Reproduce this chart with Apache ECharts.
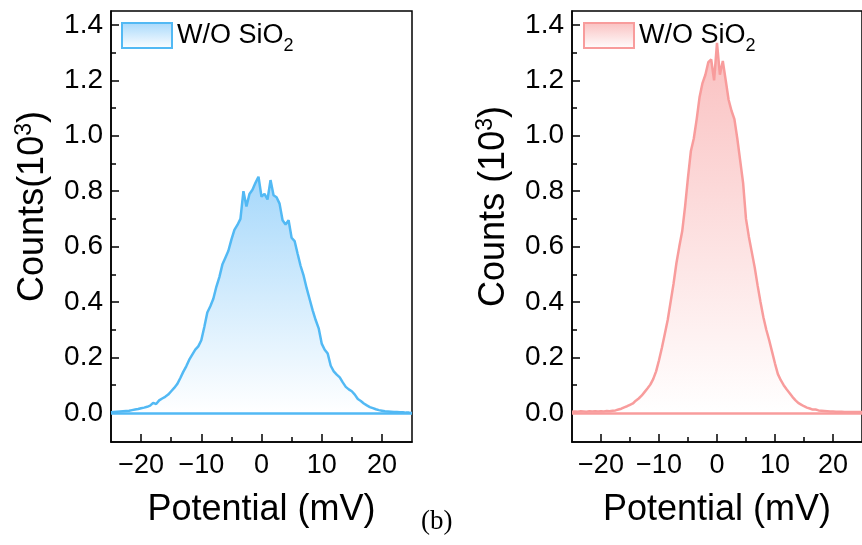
<!DOCTYPE html>
<html>
<head>
<meta charset="utf-8">
<script src="https://cdn.jsdelivr.net/npm/echarts@6/dist/echarts.min.js"></script>
<style>
  html, body { margin: 0; padding: 0; background: #fff; }
  #chart { width: 862px; height: 545px; }
</style>
</head>
<body>
<div id="chart"></div>
<script>
// Zeta-potential distributions, two panels sharing the same axes.
const potential = [
  -25, -24.5, -24, -23.5, -23, -22.5, -22, -21.5, -21, -20.5,
  -20, -19.5, -19, -18.5, -18, -17.5, -17, -16.5, -16, -15.5,
  -15, -14.5, -14, -13.5, -13, -12.5, -12, -11.5, -11, -10.5,
  -10, -9.5, -9, -8.5, -8, -7.5, -7, -6.5, -6, -5.5,
  -5, -4.5, -4, -3.5, -3, -2.5, -2, -1.5, -1, -0.5,
  0, 0.5, 1, 1.5, 2, 2.5, 3, 3.5, 4, 4.5,
  5, 5.5, 6, 6.5, 7, 7.5, 8, 8.5, 9, 9.5,
  10, 10.5, 11, 11.5, 12, 12.5, 13, 13.5, 14, 14.5,
  15, 15.5, 16, 16.5, 17, 17.5, 18, 18.5, 19, 19.5,
  20, 20.5, 21, 21.5, 22, 22.5, 23, 23.5, 24, 24.5, 25
];

// Counts (10^3), left panel
const countsLeft = [
  0.002, 0.003, 0.004, 0.005, 0.006, 0.007, 0.008, 0.010, 0.012, 0.014,
  0.017, 0.019, 0.022, 0.026, 0.036, 0.032, 0.045, 0.052, 0.058, 0.066,
  0.078, 0.090, 0.104, 0.125, 0.148, 0.168, 0.192, 0.210, 0.228, 0.240,
  0.262, 0.310, 0.362, 0.385, 0.412, 0.455, 0.490, 0.535, 0.560, 0.585,
  0.625, 0.660, 0.678, 0.700, 0.800, 0.745, 0.790, 0.805, 0.830, 0.852,
  0.780, 0.790, 0.770, 0.840, 0.785, 0.778, 0.755, 0.695, 0.680, 0.695,
  0.632, 0.620, 0.574, 0.530, 0.495, 0.450, 0.410, 0.370, 0.335, 0.305,
  0.250, 0.228, 0.214, 0.170, 0.150, 0.138, 0.128, 0.110, 0.094, 0.085,
  0.078, 0.066, 0.050, 0.043, 0.034, 0.027, 0.021, 0.017, 0.013, 0.010,
  0.008, 0.006, 0.005, 0.004, 0.003, 0.003, 0.002, 0.002, 0.001, 0.001, 0.000
];

// Counts (10^3), right panel
const countsRight = [
  0.004, 0.005, 0.004, 0.006, 0.005, 0.004, 0.006, 0.005, 0.006, 0.005,
  0.006, 0.005, 0.007, 0.006, 0.008, 0.009, 0.012, 0.015, 0.020, 0.024,
  0.029, 0.034, 0.044, 0.052, 0.062, 0.075, 0.088, 0.102, 0.122, 0.150,
  0.190, 0.235, 0.285, 0.335, 0.400, 0.465, 0.540, 0.600, 0.655, 0.745,
  0.850, 0.945, 0.990, 1.060, 1.140, 1.190, 1.220, 1.265, 1.275, 1.200,
  1.335, 1.220, 1.270, 1.200, 1.130, 1.090, 1.060, 0.990, 0.910, 0.830,
  0.700, 0.635, 0.580, 0.525, 0.460, 0.400, 0.345, 0.300, 0.262, 0.220,
  0.178, 0.140, 0.118, 0.100, 0.085, 0.072, 0.058, 0.046, 0.036, 0.030,
  0.024, 0.019, 0.016, 0.012, 0.012, 0.009, 0.008, 0.007, 0.006, 0.005,
  0.005, 0.004, 0.004, 0.004, 0.003, 0.003, 0.003, 0.003, 0.003, 0.003, 0.003
];

const xMajorTicks = [-20, -10, 0, 10, 20];
const xMinorTicks = [-15, -5, 5, 15];
const yMajorTicks = [0, 0.2, 0.4, 0.6, 0.8, 1.0, 1.2, 1.4];
const yMinorTicks = [0.1, 0.3, 0.5, 0.7, 0.9, 1.1, 1.3];

const FONT = '"Liberation Sans", Arial, Helvetica, sans-serif';
const BLUE = '#52b9f4';
const RED = '#f89c9c';

const pairs = (xs, ys) => xs.map((x, i) => [x, ys[i]]);
const fade = (top) => new echarts.graphic.LinearGradient(0, 0, 0, 1, [
  { offset: 0, color: top },
  { offset: 1, color: '#ffffff' }
]);
const minus = (v) => (v < 0 ? '\u2212' + Math.abs(v) : String(v));

function xAxes(gridIndex) {
  return [
    {
      type: 'value', gridIndex, position: 'bottom', min: -25, max: 25,
      name: 'Potential (mV)', nameLocation: 'middle', nameGap: 50,
      nameTextStyle: { fontFamily: FONT, fontSize: 36, color: '#000' },
      axisLine: { onZero: false, lineStyle: { color: '#000', width: 1.5 } },
      axisTick: { customValues: xMajorTicks, inside: true, length: 8, lineStyle: { color: '#000', width: 1.5 } },
      axisLabel: { customValues: xMajorTicks, formatter: minus, margin: 10,
                   fontFamily: FONT, fontSize: 27, color: '#000' },
      splitLine: { show: false }
    },
    {
      type: 'value', gridIndex, position: 'bottom', offset: 0, min: -25, max: 25,
      axisLine: { show: false, onZero: false },
      axisTick: { customValues: xMinorTicks, inside: true, length: 5, lineStyle: { color: '#000', width: 1.5 } },
      axisLabel: { show: false },
      splitLine: { show: false }
    }
  ];
}

function yAxes(gridIndex, title) {
  return [
    {
      type: 'value', gridIndex, position: 'left', min: -0.105, max: 1.45,
      name: title, nameLocation: 'middle', nameGap: 57,
      nameTextStyle: {
        fontFamily: FONT, fontSize: 36, color: '#000', padding: [0, 0, 0, 40],
        rich: { sup: { fontFamily: FONT, fontSize: 23, color: '#000', padding: [0, 0, 18, 0] } }
      },
      axisLine: { onZero: false, lineStyle: { color: '#000', width: 1.5 } },
      axisTick: { customValues: yMajorTicks, inside: true, length: 8, lineStyle: { color: '#000', width: 1.5 } },
      axisLabel: { customValues: yMajorTicks, formatter: (v) => v.toFixed(1), margin: 8,
                   fontFamily: FONT, fontSize: 28, color: '#000' },
      splitLine: { show: false }
    },
    {
      type: 'value', gridIndex, position: 'left', offset: 0, min: -0.105, max: 1.45,
      axisLine: { show: false, onZero: false },
      axisTick: { customValues: yMinorTicks, inside: true, length: 5, lineStyle: { color: '#000', width: 1.5 } },
      axisLabel: { show: false },
      splitLine: { show: false }
    }
  ];
}

function distSeries(name, axisIndex, values, color, fillTop) {
  return {
    name, type: 'line', xAxisIndex: axisIndex, yAxisIndex: axisIndex,
    data: pairs(potential, values),
    showSymbol: false, symbol: 'none', smooth: false,
    lineStyle: { color, width: 2.5 },
    itemStyle: { color },
    areaStyle: { color: fade(fillTop), opacity: 1 },
    markLine: {
      silent: true, symbol: 'none', animation: false,
      label: { show: false },
      lineStyle: { color, width: 2.5, type: 'solid' },
      data: [{ yAxis: 0 }]
    },
    animation: false
  };
}

function legendFor(name, left, color, fillTop) {
  return {
    left, top: 22, orient: 'vertical', padding: 0,
    itemWidth: 50, itemHeight: 25, selectedMode: false,
    data: [{ name, icon: 'rect',
             itemStyle: { color: fade(fillTop), borderColor: color, borderWidth: 2 } }],
    formatter: () => 'W/O SiO{sub|2}',
    textStyle: {
      fontFamily: FONT, fontSize: 27, color: '#000',
      rich: { sub: { fontFamily: FONT, fontSize: 18, color: '#000', padding: [22, 0, 0, 0] } }
    }
  };
}

const chart = echarts.init(document.getElementById('chart'), null, { renderer: 'canvas' });
chart.setOption({
  backgroundColor: '#fff',
  animation: false,
  grid: [
    { left: 111, top: 11, width: 301, height: 431, show: true, borderColor: '#000', borderWidth: 1.5, backgroundColor: 'transparent' },
    { left: 572, top: 11, width: 301, height: 431, show: true, borderColor: '#000', borderWidth: 1.5, backgroundColor: 'transparent' }
  ],
  xAxis: [...xAxes(0), ...xAxes(1)],
  yAxis: [...yAxes(0, 'Counts(10{sup|3})'), ...yAxes(1, 'Counts (10{sup|3})')],
  legend: [
    legendFor('W/O SiO2 left', 121, BLUE, '#a6d8fb'),
    legendFor('W/O SiO2 right', 583, RED, '#fac0c0')
  ],
  series: [
    distSeries('W/O SiO2 left', 0, countsLeft, BLUE, '#a6d8fb'),
    distSeries('W/O SiO2 right', 2, countsRight, RED, '#fac0c0')
  ],
  graphic: [
    { type: 'text', left: 421, top: 508,
      style: { text: '(b)', fontFamily: '"Liberation Serif", "Times New Roman", serif', fontSize: 27, fill: '#000' } }
  ]
});
</script>
</body>
</html>
